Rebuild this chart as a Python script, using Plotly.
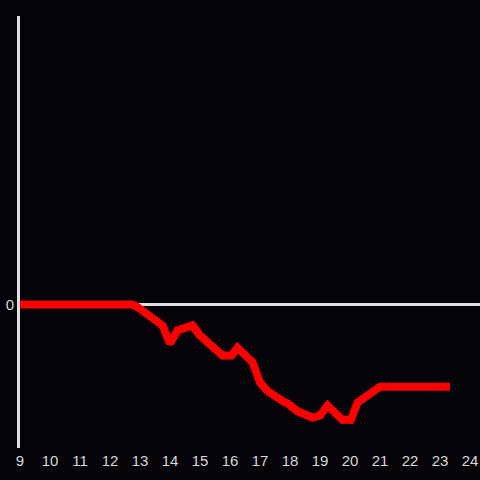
import plotly.graph_objects as go

hours = [9.0, 12.75, 12.93, 13.75, 14.0, 14.25, 14.75, 15.0, 15.75, 16.05, 16.25, 16.75, 17.0,
         17.25, 17.75, 17.95, 18.25, 18.75, 19.0, 19.25, 19.75, 20.03, 20.25, 20.6, 21.0, 23.33]
values = [0.0, 0.0, -0.02, -0.146, -0.27, -0.18, -0.146, -0.215, -0.354, -0.354, -0.30, -0.40,
          -0.54, -0.60, -0.67, -0.69, -0.74, -0.785, -0.77, -0.70, -0.80, -0.80, -0.68, -0.63,
          -0.57, -0.57]
x_ticks = list(range(9, 25))
y_ticks = [0]

fig = go.Figure()
fig.add_trace(go.Scatter(x=hours, y=values, mode="lines",
                         line=dict(color="#ff0000", width=8), hoverinfo="skip"))

fig.update_layout(
    width=480, height=480,
    paper_bgcolor="#050307", plot_bgcolor="#050307",
    margin=dict(l=20, r=0, t=16, b=32),
    showlegend=False,
    font=dict(family="Liberation Sans, Arial, sans-serif", size=15, color="#d8d8d8"),
    xaxis=dict(range=[9, 24.333], tickvals=x_ticks, ticktext=[str(t) for t in x_ticks],
               showgrid=False, zeroline=False, showline=False, ticks="",
               ticklabelstandoff=2),
    yaxis=dict(range=[-0.995, 2], tickvals=y_ticks, ticktext=["0"], showgrid=False,
               zeroline=True, zerolinecolor="#e0e0e0", zerolinewidth=3,
               showline=True, linecolor="#e0e0e0", linewidth=3, ticks=""),
)

fig.write_html("out.html", config={"displayModeBar": False},
               post_script="document.body.style.margin='0';")
